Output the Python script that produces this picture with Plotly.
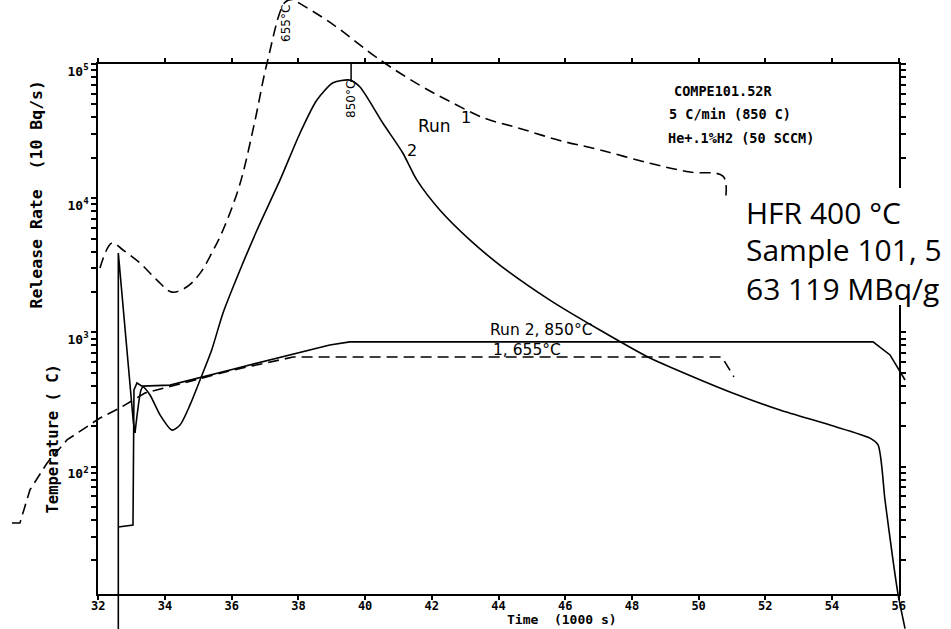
import plotly.graph_objects as go

# ---------------- data (y in axis units) ----------------
x_tick_vals = [32, 34, 36, 38, 40, 42, 44, 46, 48, 50, 52, 54, 56]

run1_rate_t = [32.05, 32.41, 32.74, 33.25, 33.76, 34.21, 34.66, 35.05, 35.45, 35.74,
               36.24, 36.7, 37.06, 37.6, 37.84, 38.05, 38.95, 40.45, 41.65, 42.55,
               43.54, 44.64, 45.84, 47.04, 48.54, 49.74, 50.73, 50.82]
run1_rate = [3020, 4634, 4111, 3289, 2455, 1995, 2188, 2754, 4111, 5794,
             12590, 38020, 101600, 288400, 302000, 281800, 204200, 107200, 69180, 52480,
             39810, 33110, 26920, 22910, 18200, 15670, 14620, 10470]

run2_rate_t = [32.6, 32.6, 33.05, 33.1, 33.28, 33.34, 33.55, 33.85, 34.21, 34.45,
               34.75, 35.05, 35.4, 35.74, 36.25, 36.76, 37.45, 38.05, 38.55, 39.04,
               39.54, 39.84, 40.53, 41.13, 41.55, 42.24, 43.14, 44.04, 45.54, 47.04,
               48.54, 49.35, 50.94, 52.44, 53.94, 55.14, 55.38, 55.59, 55.83, 55.98, 56.19]
run2_rate = [6, 3908, 216, 178, 372, 392, 342, 243, 187, 204,
             288, 442, 740, 1396, 2917, 5794, 13680, 30620, 53700, 72440,
             75860, 67610, 36310, 21730, 13680, 8166, 4887, 3177, 1742, 1042,
             644, 525, 360, 264, 204, 163, 145, 56, 20, 11.2, 6.2]

run2_temp_t = [32.6, 33.04, 33.07, 33.16, 33.31, 34.15, 35.95, 37.74, 38.94, 39.54,
               55.23, 55.74, 56.19]
run2_temp = [35.5, 36.7, 372, 420, 398, 405, 525, 679, 806, 850,
             850, 679, 442]

run1_temp_t = [29.41, 29.65, 29.95, 30.46, 31.06, 31.66, 32.05, 32.65, 33.4, 34.15,
               35.95, 37.84, 50.7, 51.06]
run1_temp = [38, 38, 67, 106, 158, 197, 230, 274, 353, 395,
             518, 655, 655, 466]

y_major_vals = [1e2, 1e3, 1e4, 1e5]
y_major_text = ["10<sup>2</sup>", "10<sup>3</sup>", "10<sup>4</sup>", "10<sup>5</sup>"]

# ---------------- layout geometry ----------------
W, H = 951, 629
FX0, FX1 = 98.3, 898.7      # frame left/right (px)
FY0, FY1 = 64.0, 594.0      # frame top/bottom (px)
XMIN, XMAX = 32, 56
LOGTOP = 5.0
PX_DEC = 134.2
LOGBOT = LOGTOP - (FY1 - FY0) / PX_DEC
PX_X = (FX1 - FX0) / (XMAX - XMIN)

full_x = [XMIN - FX0 / PX_X, XMAX + (W - FX1) / PX_X]
full_y = [LOGBOT - (H - FY1) / PX_DEC, LOGTOP + FY0 / PX_DEC]


def px(xp):
    return xp / W


def py(yp):
    return 1 - yp / H


# all log ticks (major + minor) within the frame
y_tick_vals, y_tick_text = [], []
for k in range(1, 5):
    for m in range(1, 10):
        v = m * 10 ** k
        if v >= 10 ** LOGBOT - 1e-9:
            y_tick_vals.append(v)
            y_tick_text.append("")
y_tick_vals.append(1e5)
y_tick_text.append("")
for v, t in zip(y_major_vals, y_major_text):
    y_tick_text[y_tick_vals.index(v)] = t

fig = go.Figure()
line_kw = dict(color="black", width=1.6)
dash_kw = dict(dash="11px,6px", color="black", width=1.6)
fig.add_trace(go.Scatter(x=run1_rate_t, y=run1_rate, mode="lines", line=dash_kw,
                         line_shape="spline", xaxis="x", yaxis="y", name="Run 1 release"))
# Run 2 release: sharp start-up spike drawn straight, rest smoothed
fig.add_trace(go.Scatter(x=run2_rate_t[:4], y=run2_rate[:4], mode="lines", line=line_kw,
                         xaxis="x", yaxis="y", name="Run 2 release (start)"))
fig.add_trace(go.Scatter(x=run2_rate_t[3:], y=run2_rate[3:], mode="lines", line=line_kw,
                         line_shape="spline", line_smoothing=0.7,
                         xaxis="x", yaxis="y", name="Run 2 release"))
fig.add_trace(go.Scatter(x=run2_temp_t, y=run2_temp, mode="lines",
                         line=line_kw, xaxis="x", yaxis="y", name="Run 2 temperature"))
fig.add_trace(go.Scatter(x=run1_temp_t, y=run1_temp, mode="lines", line=dash_kw,
                         xaxis="x", yaxis="y", name="Run 1 temperature"))

tickfont = dict(family="DejaVu Sans Mono", size=12, color="black", weight="bold")
ytickfont = dict(family="DejaVu Sans Mono", size=13, color="black", weight="bold")
frame_common = dict(showgrid=False, zeroline=False, showline=True, linecolor="black",
                    linewidth=2, mirror="allticks", ticks="outside", tickcolor="black",
                    tickwidth=1.5)

fig.update_layout(
    width=W, height=H, margin=dict(l=0, r=0, t=0, b=0, autoexpand=False),
    paper_bgcolor="white", plot_bgcolor="rgba(0,0,0,0)", showlegend=False,
    xaxis=dict(domain=[0, 1], range=full_x, visible=False, anchor="y"),
    yaxis=dict(domain=[0, 1], range=full_y, type="log", visible=False, anchor="x"),
    xaxis2=dict(domain=[px(FX0), px(FX1)], range=[XMIN, XMAX], anchor="y2",
                tickmode="array", tickvals=x_tick_vals, ticklen=4, tickfont=tickfont,
                ticklabelstandoff=-4, **frame_common),
    yaxis2=dict(domain=[py(FY1), py(FY0)], range=[LOGBOT, LOGTOP], type="log", anchor="x2",
                tickmode="array", tickvals=y_tick_vals, ticktext=y_tick_text, ticklen=5,
                tickfont=ytickfont, ticklabelshift=7, **frame_common),
    xaxis3=dict(overlaying="x2", range=[XMIN, XMAX], anchor="y3", showgrid=False,
                zeroline=False, showline=False, ticks="inside", mirror="allticks",
                tickmode="array", tickvals=x_tick_vals, ticklen=4, tickcolor="black",
                tickwidth=1.5, showticklabels=False),
    yaxis3=dict(overlaying="y2", range=[LOGBOT, LOGTOP], type="log", anchor="x3",
                showgrid=False, zeroline=False, showline=False, ticks="inside",
                mirror="allticks", tickmode="array", tickvals=y_tick_vals, ticklen=5,
                tickcolor="black", tickwidth=1.5, showticklabels=False),
)

mono = "DejaVu Sans Mono"
hand = "DejaVu Sans"
ann = []


def add_text(text, xp, yp, size, family=mono, angle=0, xanchor="center", weight="bold"):
    ann.append(dict(text=text, x=px(xp), y=py(yp), xref="paper", yref="paper",
                    showarrow=False, textangle=angle, xanchor=xanchor, yanchor="middle",
                    font=dict(family=family, size=size, color="black", weight=weight)))


add_text("Release Rate  (10 Bq/s)", 35.5, 195, 16.5, angle=-90)
add_text("Temperature ( C)", 52.5, 439, 15.5, angle=-90)
add_text("Time  (1000 s)", 562, 619, 13)
add_text("COMPE101.52R", 672, 91, 13.5, xanchor="left")
add_text("5 C/min (850 C)", 667, 114, 13.5, xanchor="left")
add_text("He+.1%H2 (50 SCCM)", 666, 138, 13.5, xanchor="left")
add_text("655°C", 286, 24, 12, family=hand, angle=-90, weight="normal")
add_text("850°C", 351, 100, 12, family=hand, angle=-90, weight="normal")
add_text("Run", 434, 126, 17, family=hand, weight="normal")
add_text("1", 466, 117, 16, family=hand, weight="normal")
add_text("2", 412, 150, 16, family=hand, weight="normal")
add_text("Run 2, 850°C", 541, 330, 15.5, family=hand, weight="normal")
add_text("1, 655°C", 527, 350, 15.5, family=hand, weight="normal")

# pasted label block (covers part of the chart)
shapes = [dict(type="rect", xref="paper", yref="paper", x0=px(738), x1=px(951),
               y0=py(305), y1=py(188), fillcolor="white", line=dict(width=0), layer="above"),
          dict(type="line", xref="x2", yref="paper", x0=39.58, x1=39.58,
               y0=py(64), y1=py(82), line=dict(color="black", width=1.5))]
big = "Open Sans"
add_text("HFR 400 °C", 744, 212, 30, family=big, xanchor="left", weight="normal")
add_text("Sample 101, 5", 744, 250, 30, family=big, xanchor="left", weight="normal")
add_text("63 119 MBq/g", 744, 288, 30, family=big, xanchor="left", weight="normal")

fig.update_layout(annotations=ann, shapes=shapes)
fig.write_html("out.html", config={"displayModeBar": False},
               post_script="document.body.style.margin='0px';"
                           "document.body.style.overflow='hidden';")
